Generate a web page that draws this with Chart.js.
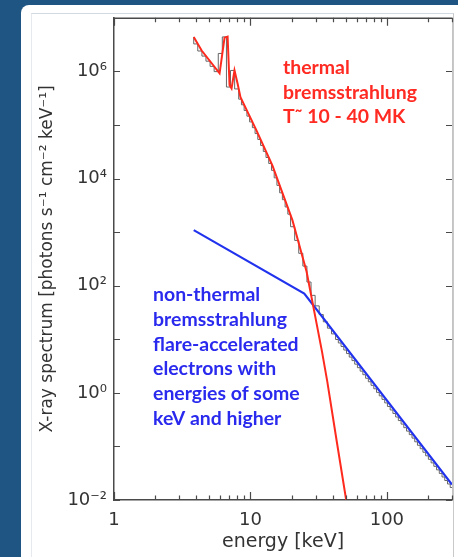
<!DOCTYPE html>
<html>
<head>
<meta charset="utf-8">
<script src="https://cdn.jsdelivr.net/npm/chart.js@4.4.0/dist/chart.umd.min.js"></script>
<style>
  html, body { margin: 0; padding: 0; width: 458px; height: 557px; overflow: hidden; background: #1e5583; }
  #panel { position: absolute; left: 21px; top: 5px; width: 437px; height: 560px; background: #fff; border-top-left-radius: 8px; }
  #inset { position: absolute; left: 31px; top: 13px; width: 421px; height: 560px; border-top: 1px solid #d2d9e0; border-left: 1px solid #e6eaee; border-right: 1px solid #c9c9c9; }
  #chart { position: absolute; left: 0; top: 0; }
</style>
</head>
<body>
<div id="panel"></div>
<div id="inset"></div>
<canvas id="chart" width="458" height="557"></canvas>
<script>
// thermal model (keV, photons s-1 cm-2 keV-1)
var thermalEnergy = [3.84, 4.39, 5.94, 6.46, 6.8, 7.03, 7.27, 7.64, 8.04, 8.45, 11.0, 14.5, 17.1, 20.3, 25.8, 33.4, 36.5, 42.8, 50.3, 53.5];
var thermalFlux   = [4.4e6, 2.45e6, 9.2e5, 4.26e6, 4.45e6, 5.5e5, 4.8e5, 1.04e6, 6.0e5, 3.3e5, 8.2e4, 1.74e4, 5.5e3, 1.67e3, 182, 6.0, 1.67, 0.129, 0.01, 0.003];

// non-thermal (broken power law)
var nonThermalEnergy = [3.84, 24.8, 300];
var nonThermalFlux   = [1090, 71, 0.0195];

// measured spectrum, one value per energy bin
var countEnergy = [3.84, 4.11, 4.41, 4.72, 5.06, 5.42, 5.81, 6.22, 6.67, 7.14, 7.66, 8.20,
  8.59, 8.99, 9.42, 9.86, 10.33, 10.81, 11.32, 11.86, 12.42, 13.00, 13.61, 14.26, 14.93, 15.63, 16.37, 17.14, 17.95, 18.79, 19.68,
  21.09, 22.59, 24.21, 25.94, 27.80, 29.79, 31.92, 34.20, 36.64, 39.26, 42.07,
  44.06, 46.13, 48.31, 50.58, 52.97, 55.46, 58.08, 60.81, 63.68, 66.68, 69.82, 73.11, 76.56, 80.17, 83.95, 87.90, 92.04, 96.38, 100.9, 105.7,
  110.7, 115.9, 121.3, 127.1, 133.0, 139.3, 145.9, 152.8, 160.0, 167.5, 175.4, 183.7, 192.3, 201.4, 210.9, 220.8, 231.2, 242.1, 253.5, 265.5,
  278.0, 291.1, 304.8];
var countFlux = [4.4e6, 3.25e6, 2.4e6, 1.93e6, 1.55e6, 1.24e6, 9.9e5, 2.16e6, 4.4e6, 5.1e5, 1.04e6, 4.7e5,
  3.03e5, 2.38e5, 1.86e5, 1.46e5, 1.14e5, 8.9e4, 6.9e4, 5.36e4, 4.14e4, 3.2e4, 2.47e4, 1.91e4, 1.42e4, 1.03e4, 7.45e3, 5.41e3, 4.03e3, 2.95e3, 2.16e3,
  1.26e3, 700, 402, 232, 117, 66, 42, 28.9, 21.2, 16.1, 12.6,
  9.9, 8.53, 7.33, 6.30, 5.41, 4.65, 4.00, 3.43, 2.95, 2.54, 2.18, 1.87, 1.61, 1.38, 1.19, 1.02, 0.879, 0.755, 0.649, 0.557,
  0.479, 0.412, 0.354, 0.304, 0.261, 0.224, 0.193, 0.166, 0.143, 0.122, 0.105, 0.0906, 0.0778, 0.0668, 0.0574, 0.0493, 0.0425, 0.0365, 0.0313, 0.0269,
  0.0231, 0.0199, 0.0171];

// axes
var xLabelTicks = [1, 10, 100];
var xMinorTicks = [2, 3, 4, 5, 6, 7, 8, 9, 20, 30, 40, 50, 60, 70, 80, 90, 200, 300];
var yDecades    = [1e-2, 1e-1, 1, 1e1, 1e2, 1e3, 1e4, 1e5, 1e6, 1e7];
var yLabelTicks = [1e-2, 1, 1e2, 1e4, 1e6];
var yLabelText  = ['10\u207B\u00B2', '10\u2070', '10\u00B2', '10\u2074', '10\u2076'];

var thermalText    = ['thermal', 'bremsstrahlung', 'T\u02DC 10 - 40 MK'];
var nonThermalText = ['non-thermal', 'bremsstrahlung', 'flare-accelerated', 'electrons with', 'energies of some', 'keV and higher'];

function pts(xs, ys) {
  var out = [];
  for (var i = 0; i < xs.length; i++) out.push({x: xs[i], y: ys[i]});
  return out;
}

// draws a text block a little wider than the font's own proportions
function noteBlock(ctx, lines, left, firstBase, step) {
  var sx = 1.08;
  ctx.save();
  ctx.translate(left, 0);
  ctx.scale(sx, 1);
  lines.forEach(function(t, i) { ctx.fillText(t, 0, firstBase + i * step); });
  ctx.restore();
}

// frame, inward tick marks and the two text blocks
var frameAndNotes = {
  id: 'frameAndNotes',
  afterDraw: function(chart) {
    var ctx = chart.ctx, a = chart.chartArea;
    var x = chart.scales.x, y = chart.scales.y;
    ctx.save();

    ctx.strokeStyle = '#c4c4c4';
    ctx.lineWidth = 1;
    ctx.beginPath();
    ctx.moveTo(a.right + 0.5, a.top); ctx.lineTo(a.right + 0.5, a.bottom);
    ctx.stroke();

    ctx.strokeStyle = '#4a4a4a';
    ctx.lineWidth = 1.5;
    ctx.beginPath();
    ctx.moveTo(a.left, a.top + 0.5); ctx.lineTo(a.right, a.top + 0.5);
    ctx.stroke();

    ctx.lineWidth = 1.2;
    ctx.beginPath();
    xLabelTicks.concat(xMinorTicks).forEach(function(v) {
      var px = Math.round(x.getPixelForValue(v)) + 0.5;
      var len = xLabelTicks.indexOf(v) >= 0 ? 8 : 4.5;
      ctx.moveTo(px, a.bottom); ctx.lineTo(px, a.bottom - len);
      ctx.moveTo(px, a.top); ctx.lineTo(px, a.top + len);
    });
    yDecades.forEach(function(v) {
      var py = Math.round(y.getPixelForValue(v)) + 0.5;
      ctx.moveTo(a.left, py); ctx.lineTo(a.left + 6, py);
      ctx.moveTo(a.right, py); ctx.lineTo(a.right - 6, py);
    });
    ctx.stroke();

    ctx.font = 'bold 18px Lato';
    ctx.textBaseline = 'alphabetic';
    ctx.textAlign = 'left';
    ctx.fillStyle = '#ff2a22';
    noteBlock(ctx, thermalText, 283, 74, 24.5);
    ctx.fillStyle = '#2a2aee';
    noteBlock(ctx, nonThermalText, 153, 301, 24.8);
    ctx.restore();
  }
};

var tickFont = {family: 'DejaVu Sans', size: 18};

new Chart(document.getElementById('chart'), {
  type: 'line',
  data: {
    datasets: [
      {
        label: 'thermal',
        data: pts(thermalEnergy, thermalFlux),
        borderColor: '#ff2a1e',
        borderWidth: 2,
        pointRadius: 0,
        order: 1
      },
      {
        label: 'non-thermal',
        data: pts(nonThermalEnergy, nonThermalFlux),
        borderColor: '#2233ee',
        borderWidth: 2.2,
        pointRadius: 0,
        order: 2
      },
      {
        label: 'spectrum',
        data: pts(countEnergy, countFlux),
        borderColor: '#666666',
        borderWidth: 1,
        pointRadius: 0,
        stepped: 'after',
        order: 3
      }
    ]
  },
  options: {
    responsive: false,
    animation: false,
    devicePixelRatio: 1,
    layout: {padding: {top: 14, right: 6, left: 0, bottom: 0}},
    plugins: {legend: {display: false}, tooltip: {enabled: false}},
    scales: {
      x: {
        type: 'logarithmic',
        min: 1,
        max: 300,
        grid: {display: false, drawTicks: false},
        border: {display: true, color: '#4a4a4a', width: 1.5},
        afterBuildTicks: function(scale) {
          scale.ticks = xLabelTicks.map(function(v) { return {value: v}; });
        },
        afterFit: function(scale) { scale.height = 57; },
        ticks: {
          autoSkip: false,
          maxRotation: 0,
          padding: 10,
          color: '#333',
          font: tickFont,
          callback: function(v) { return String(v); }
        },
        title: {
          display: true,
          text: 'energy [keV]',
          color: '#333',
          font: {family: 'DejaVu Sans', size: 19},
          padding: {top: 0, bottom: 4}
        }
      },
      y: {
        type: 'logarithmic',
        min: 1e-2,
        max: 1e7,
        grid: {display: false, drawTicks: false},
        border: {display: true, color: '#4a4a4a', width: 1.5},
        afterBuildTicks: function(scale) {
          scale.ticks = yLabelTicks.map(function(v) { return {value: v}; });
        },
        afterFit: function(scale) { scale.width = 114; },
        ticks: {
          autoSkip: false,
          padding: 7,
          color: '#333',
          font: tickFont,
          callback: function(v) { return yLabelText[yLabelTicks.indexOf(v)]; }
        },
        title: {
          display: true,
          text: 'X-ray spectrum [photons s\u207B\u00B9 cm\u207B\u00B2 keV\u207B\u00B9]',
          color: '#333',
          font: {family: 'DejaVu Sans', size: 17},
          padding: {top: 37, bottom: 0}
        }
      }
    }
  },
  plugins: [frameAndNotes]
});
</script>
</body>
</html>
